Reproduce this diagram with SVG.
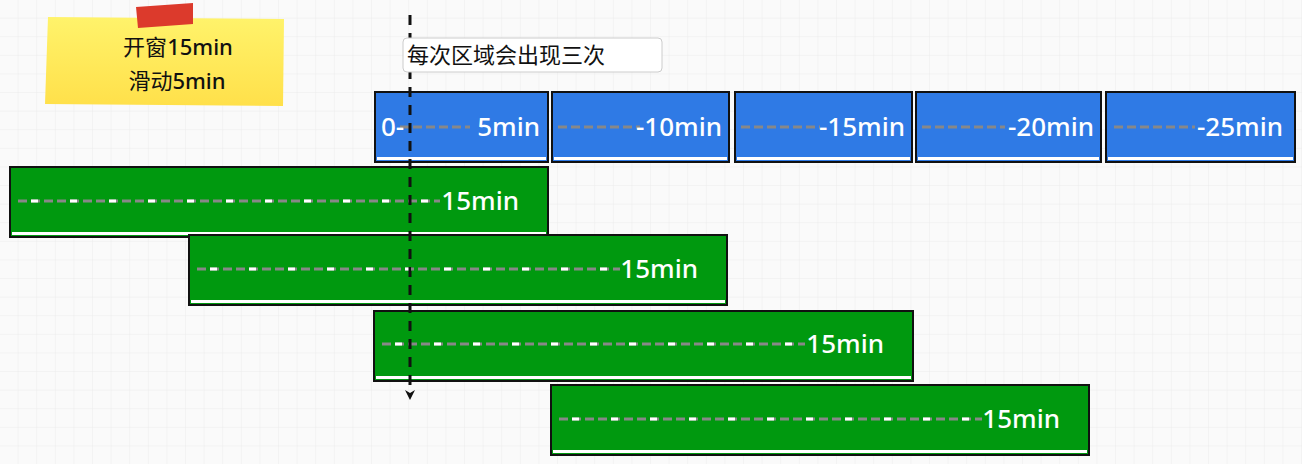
<svg xmlns="http://www.w3.org/2000/svg" width="1302" height="464" viewBox="0 0 1302 464">
<style>
.lbl{font-family:"Noto Sans","Liberation Sans",sans-serif;font-weight:500;font-size:26px;fill:#fff}
.blue{fill:#2f7ae5;stroke:#111;stroke-width:2}
.green{fill:#00990f;stroke:#111;stroke-width:2}
.strip{fill:#fff}
.dash{stroke:#888;stroke-width:3;stroke-dasharray:9 4}
.dash2{stroke:#fff;stroke-width:3;stroke-dasharray:7 32;stroke-dashoffset:-13}
.cn{font-family:"Liberation Serif","Noto Sans CJK SC",serif;font-size:22px;fill:#111}
</style>
<defs>
<pattern id="grid" width="18.6" height="18.6" patternUnits="userSpaceOnUse">
<path d="M18.6 0V18.6H0" fill="none" stroke="#ebebeb" stroke-width="1"/>
</pattern>
<linearGradient id="note" x1="0" y1="0" x2="0" y2="1"><stop offset="0" stop-color="#fff36b"/><stop offset="1" stop-color="#ffe04a"/></linearGradient>
<marker id="arr" markerWidth="10" markerHeight="10" refX="5" refY="5" orient="auto" markerUnits="userSpaceOnUse"><path d="M0 0L10 5L0 10L3 5Z" fill="#111"/></marker>
</defs>
<rect width="1302" height="464" fill="#fafafa"/>
<rect width="1302" height="464" fill="url(#grid)"/>
<g id="note">
<polygon points="48,17 284,19 283,106 45,104" fill="url(#note)"/>
<polygon points="136,7 193,3 193,24 138,28" fill="#dc3a2c"/>
<text class="cn" x="178" y="55" text-anchor="middle">开窗<tspan font-family="Noto Sans,sans-serif" font-weight="500">15min</tspan></text>
<text class="cn" x="177" y="89" text-anchor="middle">滑动<tspan font-family="Noto Sans,sans-serif" font-weight="500">5min</tspan></text>
</g>
<g id="blue1"><rect class="blue" x="375" y="92" width="173" height="70"/><rect class="strip" x="377" y="157" width="169" height="3"/><line class="dash" x1="400" y1="127" x2="470" y2="127"/><text class="lbl" x="381" y="136">0-</text><text class="lbl" x="540" y="136" text-anchor="end">5min</text></g>
<g id="blue2"><rect class="blue" x="552" y="92" width="177" height="70"/><rect class="strip" x="554" y="157" width="173" height="3"/><line class="dash" x1="558" y1="127" x2="640" y2="127"/><text class="lbl" x="722" y="136" text-anchor="end">-10min</text></g>
<g id="blue3"><rect class="blue" x="735" y="92" width="177" height="70"/><rect class="strip" x="737" y="157" width="173" height="3"/><line class="dash" x1="741" y1="127" x2="820" y2="127"/><text class="lbl" x="905" y="136" text-anchor="end">-15min</text></g>
<g id="blue4"><rect class="blue" x="916" y="92" width="185" height="70"/><rect class="strip" x="918" y="157" width="181" height="3"/><line class="dash" x1="922" y1="127" x2="1005" y2="127"/><text class="lbl" x="1094" y="136" text-anchor="end">-20min</text></g>
<g id="blue5"><rect class="blue" x="1106" y="92" width="189" height="70"/><rect class="strip" x="1108" y="157" width="185" height="3"/><line class="dash" x1="1114" y1="127" x2="1195" y2="127"/><text class="lbl" x="1283" y="136" text-anchor="end">-25min</text></g>
<g id="green1"><rect class="green" x="10" y="167" width="538" height="70"/><rect class="strip" x="12" y="232" width="534" height="3"/><line class="dash" x1="18" y1="201" x2="440" y2="201"/><line class="dash2" x1="18" y1="201" x2="440" y2="201"/><text class="lbl" x="519" y="210" text-anchor="end">15min</text></g>
<g id="green2"><rect class="green" x="189" y="235" width="538" height="70"/><rect class="strip" x="191" y="300" width="534" height="3"/><line class="dash" x1="197" y1="269" x2="620" y2="269"/><line class="dash2" x1="197" y1="269" x2="620" y2="269"/><text class="lbl" x="698" y="278" text-anchor="end">15min</text></g>
<g id="green3"><rect class="green" x="374" y="311" width="539" height="70"/><rect class="strip" x="376" y="376" width="535" height="3"/><line class="dash" x1="382" y1="344" x2="805" y2="344"/><line class="dash2" x1="382" y1="344" x2="805" y2="344"/><text class="lbl" x="884" y="353" text-anchor="end">15min</text></g>
<g id="green4"><rect class="green" x="551" y="385" width="538" height="70"/><rect class="strip" x="553" y="450" width="534" height="3"/><line class="dash" x1="559" y1="419" x2="982" y2="419"/><line class="dash2" x1="559" y1="419" x2="982" y2="419"/><text class="lbl" x="1060" y="428" text-anchor="end">15min</text></g>
<g id="connectors">
<line x1="410" y1="15" x2="410" y2="395" stroke="#111" stroke-width="3" stroke-dasharray="10 8" marker-end="url(#arr)"/>
</g>
<g id="caption">
<rect x="403" y="38" width="259" height="34" rx="4" fill="#fff" stroke="#ccc"/>
<text class="cn" x="407" y="63">每次区域会出现三次</text>
</g>
</svg>
